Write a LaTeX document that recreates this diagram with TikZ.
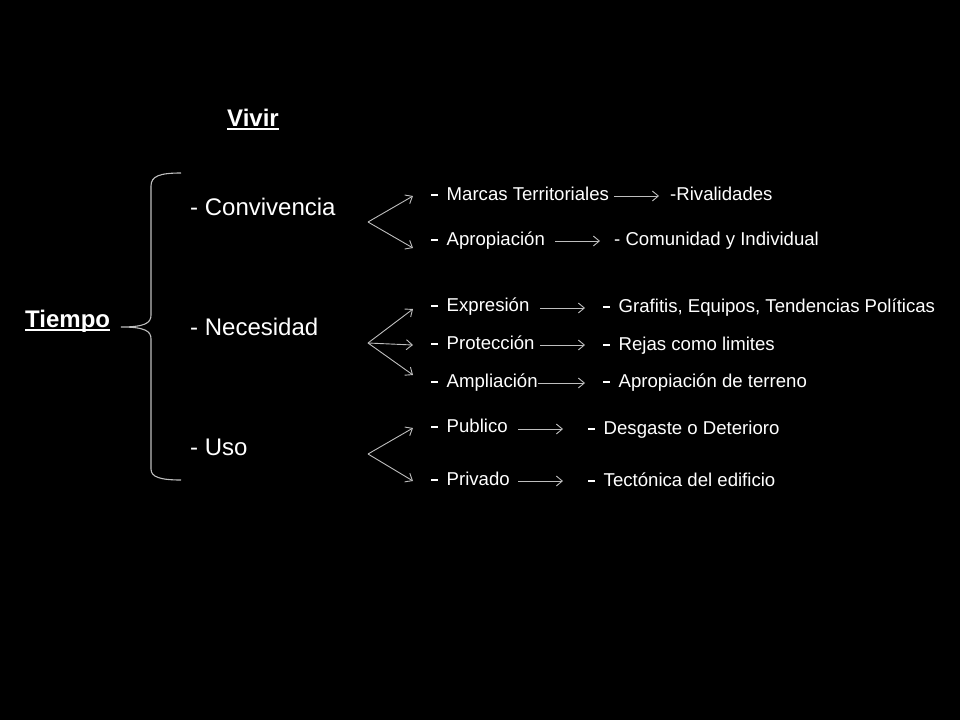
\documentclass[tikz,border=0pt]{standalone}
\usepackage{fontspec}
\setmainfont{Liberation Sans}
\usepackage{tikz}
\usetikzlibrary{arrows.meta}

\definecolor{linea}{RGB}{190,190,190}
\newcommand{\ulin}[1]{\setbox0\hbox{#1}\rlap{\rule[-4pt]{\wd0}{2pt}}\box0}
\newcommand{\guion}{\rule[4.5pt]{6.5pt}{1.8pt}\hspace{9pt}}

\begin{document}
\begin{tikzpicture}[x=1pt,y=-1pt,>={Straight Barb[length=6pt,width=10pt]},
        every node/.style={text=white,inner sep=0pt,anchor=base west},
        titulo/.style={font=\fontsize{24}{28}\selectfont\bfseries},
        rama/.style={font=\fontsize{24}{28}\selectfont},
        item/.style={font=\fontsize{18.6}{22}\selectfont},
        flecha/.style={->,draw=linea,line width=0.9pt}]
        \fill[black] (0,0) rectangle (960,720);
        % titulos
        \node[titulo] (vivir) at (227,126) {\ulin{Vivir}};
        \node[titulo] (tiempo) at (25,327) {\ulin{Tiempo}};
        % ramas
        \node[rama] (conv) at (190,215) {- Convivencia};
        \node[rama] (nec) at (190,335) {- Necesidad};
        \node[rama] (uso) at (190,455) {- Uso};
        % llave
        \draw[linea,line width=1.1pt] (181,173) .. controls (160,173) and (151,176) .. (151,186) -- (151,315)
                .. controls (151,323) and (145,327) .. (121,327)
                .. controls (145,327) and (151,331) .. (151,339) -- (151,469)
                .. controls (151,477) and (160,480) .. (181,480);
        % segundo nivel
        \node[item] (a1) at (431,200) {\guion Marcas Territoriales};
        \node[item] (a2) at (431,245) {\guion Apropiación};
        \node[item] (b1) at (431,311) {\guion Expresión};
        \node[item] (b2) at (431,349) {\guion Protección};
        \node[item] (b3) at (431,387) {\guion Ampliación};
        \node[item] (c1) at (431,432) {\guion Publico};
        \node[item] (c2) at (431,485) {\guion Privado};
        % tercer nivel
        \node[item] (ra1) at (670,200) {-Rivalidades};
        \node[item] (ra2) at (614,245) {- Comunidad y Individual};
        \node[item] (rb1) at (603,312) {\guion Grafitis, Equipos, Tendencias Políticas};
        \node[item] (rb2) at (603,350) {\guion Rejas como limites};
        \node[item] (rb3) at (603,387) {\guion Apropiación de terreno};
        \node[item] (rc1) at (588,434) {\guion Desgaste o Deterioro};
        \node[item] (rc2) at (588,486) {\guion Tectónica del edificio};
        % abanicos
        \coordinate (pa) at (368,222);
        \coordinate (pb) at (368,343);
        \coordinate (pc) at (368,454);
        \coordinate (fa1) at (413,196);
        \coordinate (fa2) at (413,248);
        \coordinate (fb1) at (413,309);
        \coordinate (fb2) at (413,345);
        \coordinate (fb3) at (413,375);
        \coordinate (fc1) at (413,428);
        \coordinate (fc2) at (413,481);
        \draw[flecha] (pa) -- (fa1);
        \draw[flecha] (pa) -- (fa2);
        \draw[flecha] (pb) -- (fb1);
        \draw[flecha] (pb) -- (fb2);
        \draw[flecha] (pb) -- (fb3);
        \draw[flecha] (pc) -- (fc1);
        \draw[flecha] (pc) -- (fc2);
        % flechas cortas
        \coordinate (sa1) at (614,196); \coordinate (ta1) at (659,196);
        \coordinate (sa2) at (555,241); \coordinate (ta2) at (600,241);
        \coordinate (sb1) at (540,308); \coordinate (tb1) at (585,308);
        \coordinate (sb2) at (540,345); \coordinate (tb2) at (585,345);
        \coordinate (sb3) at (538,383); \coordinate (tb3) at (585,383);
        \coordinate (sc1) at (518,429); \coordinate (tc1) at (563,429);
        \coordinate (sc2) at (518,481); \coordinate (tc2) at (563,481);
        \foreach \n in {a1,a2,b1,b2,b3,c1,c2}
                \draw[flecha] (s\n) -- (t\n);
    \end{tikzpicture}
\end{document}
